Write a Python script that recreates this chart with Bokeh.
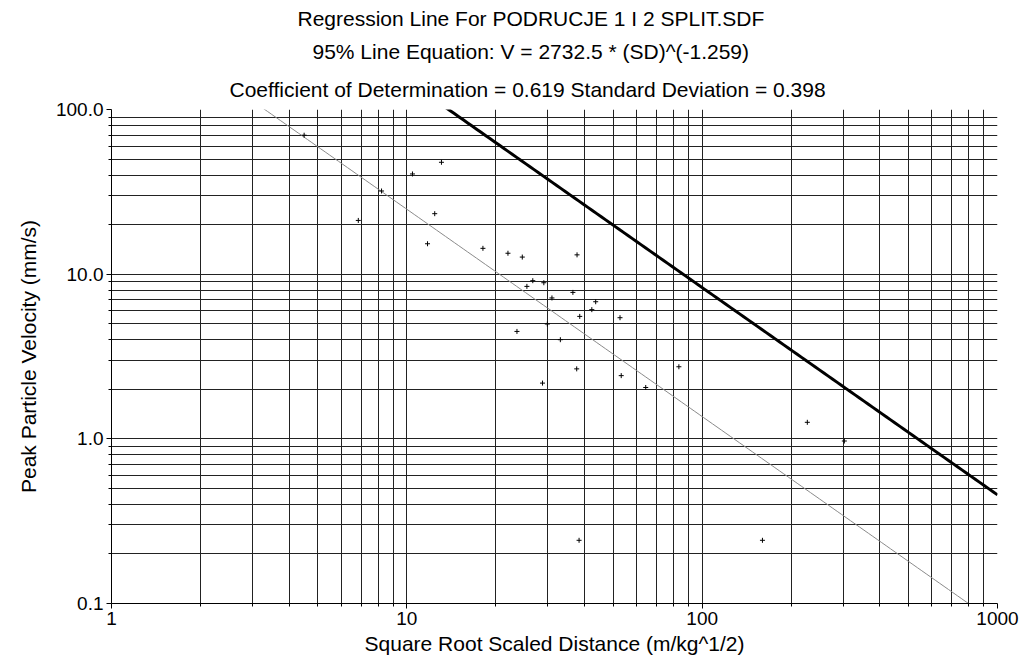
from bokeh.plotting import figure
from bokeh.models import FixedTicker, PrintfTickFormatter, Title, ColumnDataSource, Range1d
from bokeh.embed import file_html
from bokeh.resources import INLINE
import numpy as np

# ---- data ----
sd = [4.49, 6.85, 8.21, 10.45, 12.43, 13.1, 11.75, 18.1, 22.0, 24.6, 37.7,
      26.7, 29.1, 25.5, 36.5, 31.0, 43.6, 42.3, 38.5, 52.7, 29.9, 23.6,
      33.1, 37.6, 53.2, 83.4, 64.4, 28.8, 227.0, 303.0, 160.0, 38.3]
ppv = [69.8, 21.2, 32.0, 40.6, 23.3, 47.8, 15.3, 14.35, 13.4, 12.7, 13.1,
       9.13, 8.87, 8.43, 7.75, 7.17, 6.80, 6.09, 5.54, 5.44, 4.98, 4.49,
       4.0, 2.66, 2.42, 2.74, 2.05, 2.18, 1.26, 0.97, 0.242, 0.242]

exponent = -1.259
k95 = 2732.5
k50 = 450.0

x_major = [1, 10, 100, 1000]
x_minor = [m * d for d in (1, 10, 100) for m in range(2, 10)]
y_major = [0.1, 1, 10, 100]
y_minor = [m * d for d in (0.1, 1, 10) for m in range(2, 10)]

title_lines = [
    "Regression Line For PODRUCJE 1 I 2 SPLIT.SDF",
    "95% Line Equation: V = 2732.5 * (SD)^(-1.259)",
    "Coefficient of Determination = 0.619  Standard Deviation = 0.398",
]
# approximate horizontal offsets so each line is centred near x=531
title_offsets = [186, 201, 118]

FONT = "Liberation Sans"

p = figure(width=1024, height=667, x_axis_type="log", y_axis_type="log",
           x_range=Range1d(1, 1000), y_range=Range1d(0.1, 100),
           output_backend="svg", toolbar_location=None,
           min_border_left=111, min_border_right=27,
           min_border_top=109, min_border_bottom=64)
p.title = None
p.outline_line_color = None
p.background_fill_color = "white"
p.border_fill_color = "white"

# axes
p.xaxis.ticker = FixedTicker(ticks=x_major, minor_ticks=x_minor)
p.yaxis.ticker = FixedTicker(ticks=y_major, minor_ticks=y_minor)
p.xaxis.formatter = PrintfTickFormatter(format="%d")
p.yaxis.formatter = PrintfTickFormatter(format="%.1f")
for ax in (p.xaxis, p.yaxis):
    ax.axis_line_color = "black"
    ax.major_tick_line_color = "black"
    ax.minor_tick_line_color = "black"
    ax.major_tick_out = 5
    ax.major_tick_in = 0
    ax.minor_tick_out = 3
    ax.minor_tick_in = 0
    ax.major_label_text_font = FONT
    ax.major_label_text_font_size = "19px"
    ax.major_label_text_color = "black"
    ax.axis_label_text_font = FONT
    ax.axis_label_text_font_size = "21px"
    ax.axis_label_text_font_style = "normal"
    ax.axis_label_text_color = "black"
p.xaxis.axis_label = "Square Root Scaled Distance (m/kg^1/2)"
p.yaxis.axis_label = "Peak Particle Velocity (mm/s)"
p.xaxis.major_label_standoff = 3
p.yaxis.major_label_standoff = 3
p.xaxis.axis_label_standoff = 4
p.yaxis.axis_label_standoff = 13

# grid
for g in (p.xgrid, p.ygrid):
    g.grid_line_color = "#222222"
    g.grid_line_width = 1
    g.minor_grid_line_color = "#222222"
    g.minor_grid_line_width = 1

# regression lines
xs = np.logspace(0, 3, 200)
p.line(xs, k50 * xs ** exponent, line_color="#8a8a8a", line_width=1)
p.line(xs, k95 * xs ** exponent, line_color="black", line_width=3)

# data points
src = ColumnDataSource(dict(sd=sd, ppv=ppv))
p.scatter("sd", "ppv", source=src, marker="cross", size=5,
          line_color="black", line_width=1)

# title: three lines, added from the one nearest the plot outward
title_styles = [
    dict(vertical_align="top", standoff=14, padding=(0, 0, 4, 0)),  # line 3
    dict(standoff=8),                                                # line 2
    dict(standoff=8),                                                # line 1
]
for style, txt, off in zip(title_styles, reversed(title_lines), reversed(title_offsets)):
    p.add_layout(Title(text=txt, align="left", offset=off,
                       text_font=FONT, text_font_size="21px",
                       text_font_style="normal", text_color="black", **style), "above")

open("out.html", "w").write(file_html(p, INLINE))
